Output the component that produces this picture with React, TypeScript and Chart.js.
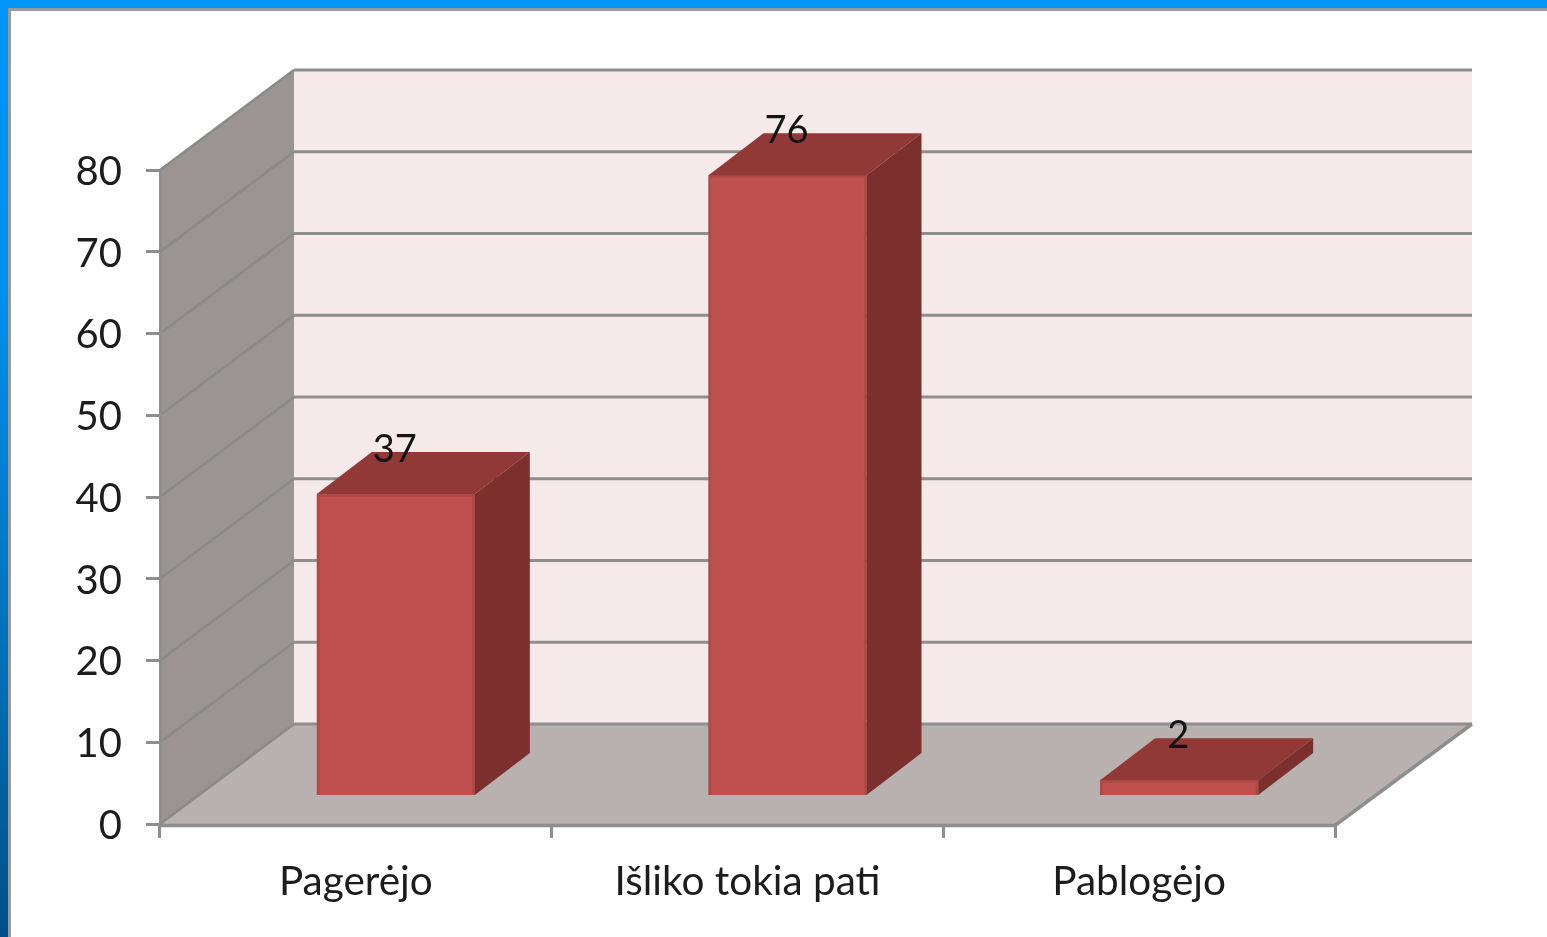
import React, { useEffect, useRef } from "react";
import { Chart, registerables } from "chart.js";

Chart.register(...registerables);

const categories = ["Pagerėjo", "Išliko tokia pati", "Pablogėjo"];
const values = [37, 76, 2];
const yTicks = [0, 10, 20, 30, 40, 50, 60, 70, 80];

const WALL_DX = 134;
const WALL_DY = -100;
const BAR_DX = 40;
const BAR_DY = -27.5;
const BAR_DEPTH_X = 55;
const BAR_DEPTH_Y = -42;
const LINE = "#8e8e8e";
const FONT = "Lato";

const poly = (ctx: CanvasRenderingContext2D, pts: number[][], fill: string) => {
  ctx.beginPath();
  pts.forEach((p, i) => (i ? ctx.lineTo(p[0], p[1]) : ctx.moveTo(p[0], p[1])));
  ctx.closePath();
  ctx.fillStyle = fill;
  ctx.fill();
};

const line = (ctx: CanvasRenderingContext2D, pts: number[][], color = LINE, w = 3) => {
  ctx.beginPath();
  pts.forEach((p, i) => (i ? ctx.lineTo(p[0], p[1]) : ctx.moveTo(p[0], p[1])));
  ctx.strokeStyle = color;
  ctx.lineWidth = w;
  ctx.stroke();
};

const walls3d = {
  id: "walls3d",
  beforeDraw(chart: any) {
    const { ctx, chartArea: a, scales } = chart;
    const y = scales.y;
    const y0 = y.getPixelForValue(0);
    const y1 = y.getPixelForValue(80);
    ctx.save();
    poly(ctx, [[a.left + WALL_DX, y1 + WALL_DY], [a.right + WALL_DX + 3, y1 + WALL_DY], [a.right + WALL_DX + 3, y0 + WALL_DY], [a.left + WALL_DX, y0 + WALL_DY]], "#f5e9e9");
    poly(ctx, [[a.left, y1], [a.left + WALL_DX, y1 + WALL_DY], [a.left + WALL_DX, y0 + WALL_DY], [a.left, y0]], "#9a9493");
    poly(ctx, [[a.left, y0 + 1], [a.left + WALL_DX, y0 + WALL_DY], [a.right + WALL_DX + 3, y0 + WALL_DY], [a.right, y0 + 1]], "#b9b0b0");
    yTicks.forEach((t) => {
      const py = y.getPixelForValue(t);
      line(ctx, [[a.left, py], [a.left + WALL_DX, py + WALL_DY]], "#8a8a88", 2.5);
      line(ctx, [[a.left + WALL_DX, py + WALL_DY], [a.right + WALL_DX + 3, py + WALL_DY]], LINE, 3);
    });
    line(ctx, [[a.left, y0 + 1.5], [a.right, y0 + 1.5], [a.right + WALL_DX + 3, y0 + WALL_DY]], LINE, 3.5);
    ctx.restore();
  },
  beforeDatasetDraw(chart: any) {
    chart.ctx.save();
    chart.ctx.translate(BAR_DX, BAR_DY);
  },
  afterDatasetDraw(chart: any, args: any) {
    const ctx = chart.ctx;
    chart.getDatasetMeta(args.index).data.forEach((el: any) => {
      const l = el.x - el.width / 2;
      const r = el.x + el.width / 2;
      const t = el.y;
      const b = el.base;
      poly(ctx, [[l, t], [l + BAR_DEPTH_X, t + BAR_DEPTH_Y], [r + BAR_DEPTH_X, t + BAR_DEPTH_Y], [r, t]], "#903937");
      poly(ctx, [[r, t], [r + BAR_DEPTH_X, t + BAR_DEPTH_Y], [r + BAR_DEPTH_X, b + BAR_DEPTH_Y], [r, b]], "#7c302e");
    });
    ctx.restore();
  },
  afterDatasetsDraw(chart: any) {
    const ctx = chart.ctx;
    ctx.save();
    ctx.font = `38px ${FONT}`;
    ctx.fillStyle = "#141414";
    ctx.textAlign = "center";
    ctx.textBaseline = "middle";
    chart.getDatasetMeta(0).data.forEach((el: any, i: number) => {
      ctx.fillText(String(values[i]), el.x + BAR_DX - 1, el.y + BAR_DY - 44);
    });
    ctx.restore();
  },
};

export default function App() {
  const ref = useRef<HTMLCanvasElement>(null);
  useEffect(() => {
    const chart = new Chart(ref.current!, {
      type: "bar",
      data: {
        labels: categories,
        datasets: [
          {
            data: values,
            backgroundColor: "#c0504d",
            borderColor: "#b04a47",
            borderWidth: 3,
            barThickness: 158,
            clip: false,
          } as any,
        ],
      },
      plugins: [walls3d],
      options: {
        responsive: false,
        animation: false,
        events: [],
        layout: { padding: { top: 170, right: 212, left: 0, bottom: 0 } },
        plugins: { legend: { display: false }, tooltip: { enabled: false } },
        scales: {
          x: {
            afterFit: (s: any) => {
              s.height = 937 - 824;
            },
            border: { display: false },
            grid: { drawOnChartArea: false, offset: true, color: LINE, lineWidth: 3, tickLength: 14 },
            ticks: { color: "#1c1c1c", font: { family: FONT, size: 40.5 }, padding: 19.5, maxRotation: 0 },
          },
          y: {
            min: 0,
            max: 80,
            afterFit: (s: any) => {
              s.width = 160;
            },
            border: { color: LINE, width: 3 },
            grid: { drawOnChartArea: false, color: LINE, lineWidth: 3, tickLength: 14 },
            ticks: { stepSize: 10, color: "#1c1c1c", font: { family: FONT, size: 40 }, padding: 24, labelOffset: 2 },
          },
        },
      } as any,
    });
    return () => chart.destroy();
  }, []);
  return (
    <div style={{ position: "fixed", inset: 0, overflow: "hidden", background: "linear-gradient(180deg,#0095f8 0%,#0090ee 30%,#0070b8 70%,#004f86 100%)" }}>
      <div style={{ position: "absolute", left: 8, top: 8, right: 0, bottom: 0, background: "#fff", borderLeft: "3px solid #9a9a9a", borderTop: "3px solid #9a9a9a" }} />
      <canvas ref={ref} width={1547} height={937} style={{ position: "absolute", left: 0, top: 0, filter: "blur(0.6px)" }} />
    </div>
  );
}
